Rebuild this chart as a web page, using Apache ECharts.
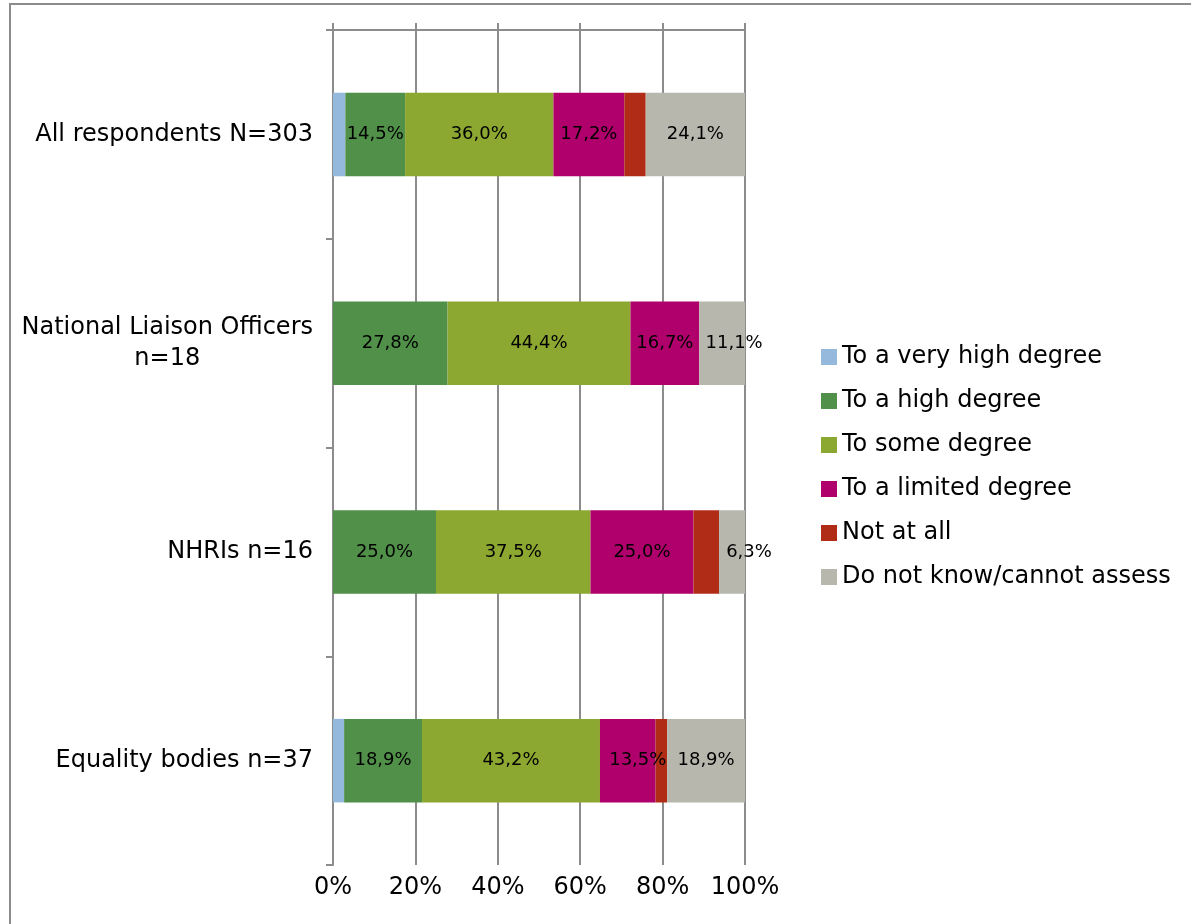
<!DOCTYPE html>
<html>
<head>
<meta charset="utf-8">
<script src="https://cdn.jsdelivr.net/npm/echarts@6/dist/echarts.min.js"></script>
<style>
  html, body { margin: 0; padding: 0; background: #fff; }
  #chart { width: 1191px; height: 924px; }
</style>
</head>
<body>
<div id="chart"></div>
<script>
// ---- data ----
const categories = ['All respondents N=303', 'National Liaison Officers\nn=18', 'NHRIs n=16', 'Equality bodies n=37'];
const seriesNames = ['To a very high degree', 'To a high degree', 'To some degree', 'To a limited degree', 'Not at all', 'Do not know/cannot assess'];
const veryHigh = [3.0, 0, 0, 2.7];
const high = [14.5, 27.8, 25.0, 18.9];
const some = [36.0, 44.4, 37.5, 43.2];
const limited = [17.2, 16.7, 25.0, 13.5];
const notAtAll = [5.2, 0, 6.2, 2.8];
const dontKnow = [24.1, 11.1, 6.3, 18.9];
const xTicks = [0, 20, 40, 60, 80, 100];

// ---- styling ----
const colors = ['#95B9DC', '#509048', '#8DA831', '#AF006B', '#B12C16', '#B8B7AE'];
const showLabel = [false, true, true, true, false, true];
const FONT = 'DejaVu Sans';
const lineColor = '#8c8c8c';
// label nudges for labels wider than their segment (series index -> category index -> dx)
const labelNudge = { 5: { 1: 12, 2: 17 }, 3: { 3: 10 } };

const values = [veryHigh, high, some, limited, notAtAll, dontKnow];

const chart = echarts.init(document.getElementById('chart'), null, { renderer: 'canvas' });

const series = values.map((arr, si) => ({
  name: seriesNames[si],
  type: 'bar',
  stack: 'total',
  xAxisIndex: 0,
  barWidth: '40%',
  itemStyle: { color: colors[si] },
  data: arr.map((v, ci) => {
    const nud = labelNudge[si] && labelNudge[si][ci];
    const d = { value: v };
    if (nud) d.label = { offset: [nud, 0] };
    return d;
  }),
  label: {
    show: showLabel[si],
    position: 'inside',
    color: '#000',
    fontFamily: FONT,
    fontSize: 18,
    formatter: p => p.value > 0 ? p.value.toFixed(1).replace('.', ',') + '%' : ''
  },
  emphasis: { disabled: true },
  animation: false
}));

const option = {
  animation: false,
  backgroundColor: '#fff',
  graphic: [{
    type: 'rect',
    shape: { x: 10, y: 4, width: 1400, height: 1200 },
    style: { fill: 'none', stroke: lineColor, lineWidth: 2 },
    silent: true
  }],
  grid: { left: 333, right: 446, top: 30, bottom: 59, containLabel: false },
  legend: {
    orient: 'vertical',
    left: 816,
    top: 339,
    icon: 'rect',
    itemWidth: 16,
    itemHeight: 16,
    itemGap: 18,
    data: seriesNames,
    textStyle: { fontFamily: FONT, fontSize: 24, color: '#000', lineHeight: 26 },
    selectedMode: false
  },
  xAxis: [{
    type: 'value',
    position: 'bottom',
    min: 0, max: 100, interval: 20,
    axisLine: { show: false },
    axisTick: { show: false },
    splitLine: { show: true, lineStyle: { color: lineColor, width: 2 } },
    axisLabel: {
      fontFamily: FONT, fontSize: 24, color: '#000', margin: 11,
      formatter: v => xTicks.includes(v) ? v + '%' : ''
    }
  }, {
    type: 'value',
    position: 'top',
    min: 0, max: 100, interval: 20,
    axisLine: { show: true, lineStyle: { color: lineColor, width: 2 } },
    axisTick: { show: true, length: 7, lineStyle: { color: lineColor, width: 2 } },
    splitLine: { show: false },
    axisLabel: { show: false }
  }],
  yAxis: {
    type: 'category',
    inverse: true,
    data: categories,
    axisLine: { show: true, lineStyle: { color: lineColor, width: 2 } },
    axisTick: { show: true, length: 7, lineStyle: { color: lineColor, width: 2 } },
    axisLabel: {
      margin: 20,
      formatter: v => v.split('\n').map(s => '{c|' + s + '}').join('\n'),
      rich: {
        c: { fontFamily: FONT, fontSize: 24, color: '#000', align: 'center', lineHeight: 31 }
      }
    }
  },
  series: series
};

chart.setOption(option);
</script>
</body>
</html>
